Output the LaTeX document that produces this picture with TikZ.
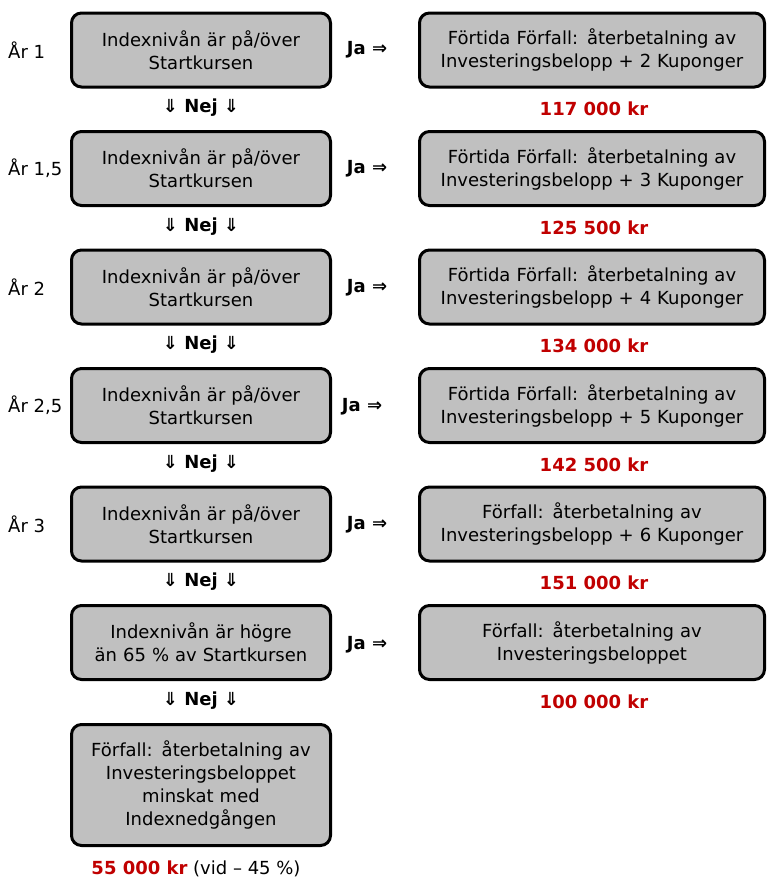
\documentclass[tikz,border=0pt]{standalone}
\usepackage{fontspec}
\setmainfont{DejaVu Sans}
\definecolor{boxgray}{HTML}{C0C0C0}
\definecolor{amountred}{HTML}{C00000}
\begin{document}
\begin{tikzpicture}[x=1pt,y=-1pt,
  box/.style={draw=black, line width=3pt, rounded corners=10pt, fill=boxgray,
    align=center, inner sep=0pt, font=\fontsize{18}{23}\selectfont},
  lbox/.style={box, minimum width=259pt, minimum height=74pt, text width=255pt},
  rbox/.style={box, minimum width=345pt, minimum height=74pt, text width=343pt},
  yr/.style={anchor=west, inner sep=0pt, font=\fontsize{18}{20}\selectfont},
  lbl/.style={inner sep=0pt, font=\fontsize{18}{20}\selectfont\bfseries},
  amt/.style={inner sep=0pt, text=amountred, font=\fontsize{18}{20}\selectfont\bfseries}
]
\useasboundingbox (0,0) rectangle (767,878);

% row 1
\node[lbox] (l1) at (201,50) {Indexnivån är på/över\\Startkursen};
\node[rbox] (r1) at (592,50) {Förtida Förfall: återbetalning av\\Investeringsbelopp + 2 Kuponger};
\node[yr] (y1) at (8,50) {År 1};
\node[lbl] (j1) at (367,50) {Ja ⇒};
\node[lbl] (n1) at (201,108) {⇓ Nej ⇓};
\node[amt] (a1) at (594,109) {117 000 kr};

% row 2
\node[lbox] (l2) at (201,168.5) {Indexnivån är på/över\\Startkursen};
\node[rbox] (r2) at (592,168.5) {Förtida Förfall: återbetalning av\\Investeringsbelopp + 3 Kuponger};
\node[yr] (y2) at (8,168.5) {År 1,5};
\node[lbl] (j2) at (367,168.5) {Ja ⇒};
\node[lbl] (n2) at (201,226.5) {⇓ Nej ⇓};
\node[amt] (a2) at (594,227.5) {125 500 kr};

% row 3
\node[lbox] (l3) at (201,287) {Indexnivån är på/över\\Startkursen};
\node[rbox] (r3) at (592,287) {Förtida Förfall: återbetalning av\\Investeringsbelopp + 4 Kuponger};
\node[yr] (y3) at (8,287) {År 2};
\node[lbl] (j3) at (367,288) {Ja ⇒};
\node[lbl] (n3) at (201,345) {⇓ Nej ⇓};
\node[amt] (a3) at (594,346) {134 000 kr};

% row 4
\node[lbox] (l4) at (201,405.5) {Indexnivån är på/över\\Startkursen};
\node[rbox] (r4) at (592,405.5) {Förtida Förfall: återbetalning av\\Investeringsbelopp + 5 Kuponger};
\node[yr] (y4) at (8,405.5) {År 2,5};
\node[lbl] (j4) at (362,406.5) {Ja ⇒};
\node[lbl] (n4) at (201,463.5) {⇓ Nej ⇓};
\node[amt] (a4) at (594,464.5) {142 500 kr};

% row 5
\node[lbox] (l5) at (201,524) {Indexnivån är på/över\\Startkursen};
\node[rbox] (r5) at (592,524) {Förfall: återbetalning av\\Investeringsbelopp + 6 Kuponger};
\node[yr] (y5) at (8,524) {År 3};
\node[lbl] (j5) at (367,525) {Ja ⇒};
\node[lbl] (n5) at (201,582) {⇓ Nej ⇓};
\node[amt] (a5) at (594,583) {151 000 kr};

% row 6
\node[lbox] (l6) at (201,642.5) {Indexnivån är högre\\än 65 \% av Startkursen};
\node[rbox] (r6) at (592,642.5) {Förfall: återbetalning av\\Investeringsbeloppet};
\node[lbl] (j6) at (367,645) {Ja ⇒};
\node[lbl] (n6) at (201,701) {⇓ Nej ⇓};
\node[amt] (a6) at (594,702) {100 000 kr};

% final
\node[lbox, minimum height=121pt] (l7) at (201,785) {Förfall: återbetalning av\\Investeringsbeloppet\\minskat med\\Indexnedgången};
\node[inner sep=0pt, font=\fontsize{18}{20}\selectfont] (a7) at (196,869) {\textcolor{amountred}{\bfseries 55 000 kr} (vid – 45 \%)};
\end{tikzpicture}
\end{document}
